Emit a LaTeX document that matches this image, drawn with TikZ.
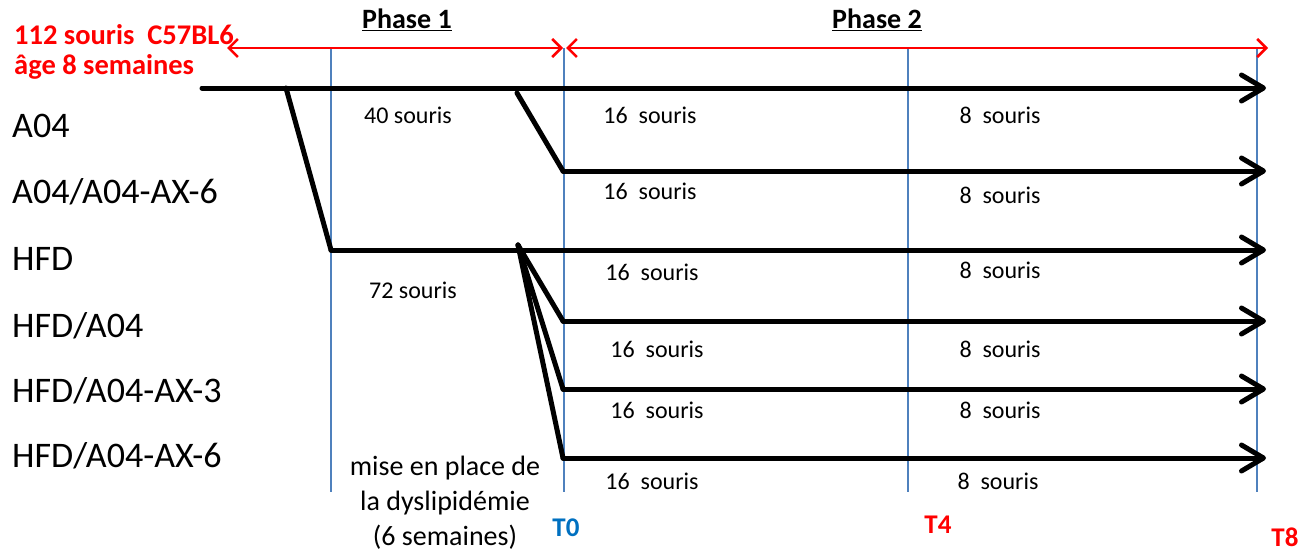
\documentclass[tikz,border=0pt]{standalone}
\usepackage{fontspec}
\setmainfont{Carlito}
\usetikzlibrary{arrows.meta}
\definecolor{tred}{RGB}{255,0,0}
\definecolor{tblue}{RGB}{79,129,189}
\definecolor{tzero}{RGB}{0,112,192}
\begin{document}
\begin{tikzpicture}[x=1pt,y=-1pt,
  grp/.style={line width=5pt,line cap=round,line join=round},
  grparrow/.style={grp,-{Straight Barb[length=22pt,width=26pt,round]}},
  phasearrow/.style={tred,line width=2.5pt,{Straight Barb[length=9pt,width=18pt]}-{Straight Barb[length=9pt,width=18pt]}},
  tick/.style={tblue,line width=1.3pt},
  rowlab/.style={anchor=base west,inner sep=0pt,font=\fontsize{36}{40}\selectfont},
  cnt/.style={anchor=center,inner sep=0pt,font=\fontsize{24}{28}\selectfont},
  redlab/.style={anchor=base west,inner sep=0pt,text=tred,font=\bfseries\fontsize{28.5}{32}\selectfont},
  phaselab/.style={anchor=center,inner sep=0pt,font=\bfseries\fontsize{28}{32}\selectfont},
  tlab/.style={anchor=center,inner sep=0pt,font=\bfseries\fontsize{27}{30}\selectfont}]
\useasboundingbox (0,0) rectangle (1304,554);
% vertical time ticks
\coordinate (v1t) at (331,48); \coordinate (v1b) at (331,492);
\coordinate (v2t) at (564,48); \coordinate (v2b) at (564,492);
\coordinate (v3t) at (908,48); \coordinate (v3b) at (908,492);
\coordinate (v4t) at (1257,48); \coordinate (v4b) at (1257,492);
\draw[tick] (v1t) -- (v1b);
\draw[tick] (v2t) -- (v2b);
\draw[tick] (v3t) -- (v3b);
\draw[tick] (v4t) -- (v4b);
% phase arrows
\coordinate (p1a) at (227,48); \coordinate (p1b) at (563,48);
\coordinate (p2a) at (566,48); \coordinate (p2b) at (1268,48);
\draw[phasearrow] (p1a) -- (p1b);
\draw[phasearrow] (p2a) -- (p2b);
\node[phaselab] (ph1) at (407,20) {\underline{Phase 1}};
\node[phaselab] (ph2) at (877,20) {\underline{Phase 2}};
\node[redlab] (t1) at (14,44) {112 souris\ \ C57BL6};
\node[redlab] (t2) at (14,74) {âge 8 semaines};
% group lines
\coordinate (s0) at (202,88); \coordinate (e0) at (1266,88);
\coordinate (b1) at (286,88); \coordinate (hfd) at (331,250); \coordinate (e3) at (1266,250);
\coordinate (b2) at (517,93); \coordinate (r2) at (563,171); \coordinate (e2) at (1266,171);
\coordinate (f) at (518,245);
\coordinate (r4) at (563,321); \coordinate (e4) at (1266,321);
\coordinate (r5) at (563,389); \coordinate (e5) at (1266,389);
\coordinate (r6) at (563,458); \coordinate (e6) at (1266,458);
\draw[grparrow] (s0) -- (e0);
\draw[grp] (b1) -- (hfd);
\draw[grparrow] (hfd) -- (e3);
\draw[grp] (b2) -- (r2);
\draw[grparrow] (r2) -- (e2);
\draw[grp] (f) -- (r4);
\draw[grp] (f) -- (r5);
\draw[grp] (f) -- (r6);
\draw[grparrow] (r4) -- (e4);
\draw[grparrow] (r5) -- (e5);
\draw[grparrow] (r6) -- (e6);
% row labels
\node[rowlab] (l1) at (12,137) {A04};
\node[rowlab] (l2) at (12,203) {A04/A04-AX-6};
\node[rowlab] (l3) at (12,270) {HFD};
\node[rowlab] (l4) at (12,337) {HFD/A04};
\node[rowlab] (l5) at (12,402) {HFD/A04-AX-3};
\node[rowlab] (l6) at (12,467) {HFD/A04-AX-6};
% counts
\node[cnt] (c40) at (408,115) {40 souris};
\node[cnt] (c72) at (413,290) {72 souris};
\node[cnt] (a1) at (650,115) {16\ \ souris};
\node[cnt] (b1n) at (1000,115) {8\ \ souris};
\node[cnt] (a2) at (650,191) {16\ \ souris};
\node[cnt] (b2n) at (1000,195) {8\ \ souris};
\node[cnt] (a3) at (652,272) {16\ \ souris};
\node[cnt] (b3n) at (1000,270) {8\ \ souris};
\node[cnt] (a4) at (657,349) {16\ \ souris};
\node[cnt] (b4n) at (1000,349) {8\ \ souris};
\node[cnt] (a5) at (657,410) {16\ \ souris};
\node[cnt] (b5n) at (1000,410) {8\ \ souris};
\node[cnt] (a6) at (652,481) {16\ \ souris};
\node[cnt] (b6n) at (998,481) {8\ \ souris};
\node[cnt,align=center,font=\fontsize{28}{35}\selectfont] (mise) at (445,503) {mise en place de\\la dyslipidémie\\(6 semaines)};
% time labels
\node[tlab,text=tzero] (T0) at (566,528) {T0};
\node[tlab,text=tred] (T4) at (938,525) {T4};
\node[tlab,text=tred] (T8) at (1285,537) {T8};
\end{tikzpicture}
\end{document}
